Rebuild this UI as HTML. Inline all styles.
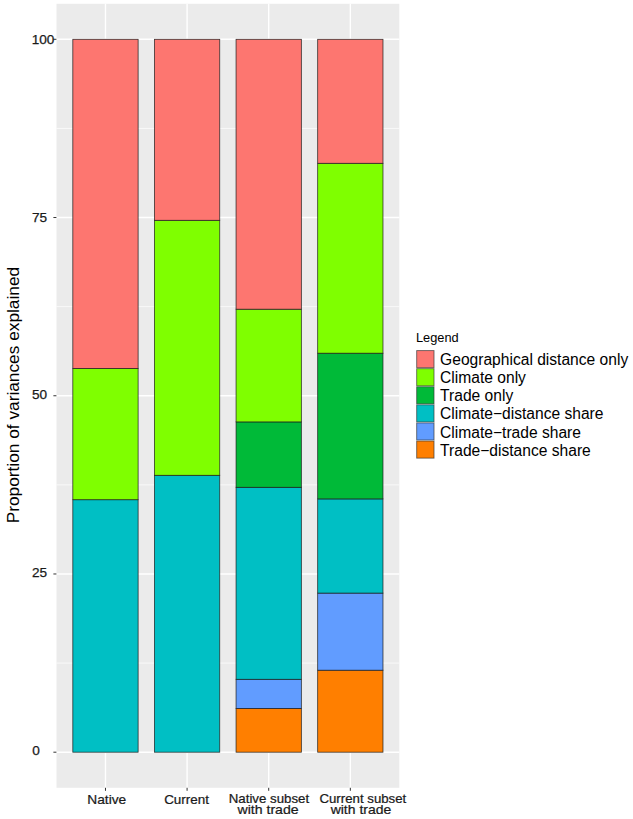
<!DOCTYPE html>
<html><head><meta charset="utf-8"><style>
html,body{margin:0;padding:0;background:#fff;width:633px;height:819px;overflow:hidden}
svg{position:absolute;left:0;top:0;font-family:"Liberation Sans",sans-serif}
</style></head><body>
<svg width="633" height="819" viewBox="0 0 633 819">
<rect x="56.50" y="3.80" width="342.80" height="784.00" fill="#EBEBEB"/>
<line x1="56.50" x2="399.30" y1="663.09" y2="663.09" stroke="#FFFFFF" stroke-width="0.7"/>
<line x1="56.50" x2="399.30" y1="484.86" y2="484.86" stroke="#FFFFFF" stroke-width="0.7"/>
<line x1="56.50" x2="399.30" y1="306.64" y2="306.64" stroke="#FFFFFF" stroke-width="0.7"/>
<line x1="56.50" x2="399.30" y1="128.41" y2="128.41" stroke="#FFFFFF" stroke-width="0.7"/>
<line x1="56.50" x2="399.30" y1="752.20" y2="752.20" stroke="#FFFFFF" stroke-width="1.4"/>
<line x1="56.50" x2="399.30" y1="573.98" y2="573.98" stroke="#FFFFFF" stroke-width="1.4"/>
<line x1="56.50" x2="399.30" y1="395.75" y2="395.75" stroke="#FFFFFF" stroke-width="1.4"/>
<line x1="56.50" x2="399.30" y1="217.52" y2="217.52" stroke="#FFFFFF" stroke-width="1.4"/>
<line x1="56.50" x2="399.30" y1="39.30" y2="39.30" stroke="#FFFFFF" stroke-width="1.4"/>
<line x1="105.47" x2="105.47" y1="3.80" y2="787.80" stroke="#FFFFFF" stroke-width="1.4"/>
<line x1="187.09" x2="187.09" y1="3.80" y2="787.80" stroke="#FFFFFF" stroke-width="1.4"/>
<line x1="268.71" x2="268.71" y1="3.80" y2="787.80" stroke="#FFFFFF" stroke-width="1.4"/>
<line x1="350.33" x2="350.33" y1="3.80" y2="787.80" stroke="#FFFFFF" stroke-width="1.4"/>
<rect x="72.82" y="499.70" width="65.30" height="252.50" fill="#00BFC4" stroke="#1a1a1a" stroke-opacity="0.85" stroke-width="0.8"/>
<rect x="72.82" y="368.40" width="65.30" height="131.30" fill="#7FFF00" stroke="#1a1a1a" stroke-opacity="0.85" stroke-width="0.8"/>
<rect x="72.82" y="39.30" width="65.30" height="329.10" fill="#FD7670" stroke="#1a1a1a" stroke-opacity="0.85" stroke-width="0.8"/>
<rect x="154.44" y="475.30" width="65.30" height="276.90" fill="#00BFC4" stroke="#1a1a1a" stroke-opacity="0.85" stroke-width="0.8"/>
<rect x="154.44" y="220.30" width="65.30" height="255.00" fill="#7FFF00" stroke="#1a1a1a" stroke-opacity="0.85" stroke-width="0.8"/>
<rect x="154.44" y="39.30" width="65.30" height="181.00" fill="#FD7670" stroke="#1a1a1a" stroke-opacity="0.85" stroke-width="0.8"/>
<rect x="236.06" y="708.40" width="65.30" height="43.80" fill="#FF7F00" stroke="#1a1a1a" stroke-opacity="0.85" stroke-width="0.8"/>
<rect x="236.06" y="679.30" width="65.30" height="29.10" fill="#619CFF" stroke="#1a1a1a" stroke-opacity="0.85" stroke-width="0.8"/>
<rect x="236.06" y="487.30" width="65.30" height="192.00" fill="#00BFC4" stroke="#1a1a1a" stroke-opacity="0.85" stroke-width="0.8"/>
<rect x="236.06" y="421.90" width="65.30" height="65.40" fill="#00BA38" stroke="#1a1a1a" stroke-opacity="0.85" stroke-width="0.8"/>
<rect x="236.06" y="309.20" width="65.30" height="112.70" fill="#7FFF00" stroke="#1a1a1a" stroke-opacity="0.85" stroke-width="0.8"/>
<rect x="236.06" y="39.30" width="65.30" height="269.90" fill="#FD7670" stroke="#1a1a1a" stroke-opacity="0.85" stroke-width="0.8"/>
<rect x="317.68" y="670.20" width="65.30" height="82.00" fill="#FF7F00" stroke="#1a1a1a" stroke-opacity="0.85" stroke-width="0.8"/>
<rect x="317.68" y="593.10" width="65.30" height="77.10" fill="#619CFF" stroke="#1a1a1a" stroke-opacity="0.85" stroke-width="0.8"/>
<rect x="317.68" y="498.90" width="65.30" height="94.20" fill="#00BFC4" stroke="#1a1a1a" stroke-opacity="0.85" stroke-width="0.8"/>
<rect x="317.68" y="353.20" width="65.30" height="145.70" fill="#00BA38" stroke="#1a1a1a" stroke-opacity="0.85" stroke-width="0.8"/>
<rect x="317.68" y="163.30" width="65.30" height="189.90" fill="#7FFF00" stroke="#1a1a1a" stroke-opacity="0.85" stroke-width="0.8"/>
<rect x="317.68" y="39.30" width="65.30" height="124.00" fill="#FD7670" stroke="#1a1a1a" stroke-opacity="0.85" stroke-width="0.8"/>
<line x1="53.4" x2="56.4" y1="752.20" y2="752.20" stroke="#333333" stroke-width="1"/>
<line x1="53.4" x2="56.4" y1="573.98" y2="573.98" stroke="#333333" stroke-width="1"/>
<line x1="53.4" x2="56.4" y1="395.75" y2="395.75" stroke="#333333" stroke-width="1"/>
<line x1="53.4" x2="56.4" y1="217.52" y2="217.52" stroke="#333333" stroke-width="1"/>
<line x1="53.4" x2="56.4" y1="39.30" y2="39.30" stroke="#333333" stroke-width="1"/>
<line x1="105.47" x2="105.47" y1="787.8" y2="790.8" stroke="#333333" stroke-width="1"/>
<line x1="187.09" x2="187.09" y1="787.8" y2="790.8" stroke="#333333" stroke-width="1"/>
<line x1="268.71" x2="268.71" y1="787.8" y2="790.8" stroke="#333333" stroke-width="1"/>
<line x1="350.33" x2="350.33" y1="787.8" y2="790.8" stroke="#333333" stroke-width="1"/>
<text x="32.19" y="755.30" font-size="13.6" fill="#1A1A1A" stroke="#1A1A1A" stroke-width="0.25">0</text>
<text x="31.92" y="577.40" font-size="13.6" fill="#1A1A1A" stroke="#1A1A1A" stroke-width="0.25">25</text>
<text x="32.06" y="399.40" font-size="13.6" fill="#1A1A1A" stroke="#1A1A1A" stroke-width="0.25">50</text>
<text x="31.92" y="221.50" font-size="13.6" fill="#1A1A1A" stroke="#1A1A1A" stroke-width="0.25">75</text>
<text x="31.65" y="43.50" font-size="13.6" fill="#1A1A1A" stroke="#1A1A1A" stroke-width="0.25">100</text>
<text transform="translate(19.2,395.1) rotate(-90)" text-anchor="middle" font-size="17.3" fill="#000">Proportion of variances explained</text>
<text transform="translate(87.30,803.50) scale(1,0.9)" font-size="13.76" fill="#1A1A1A" stroke="#1A1A1A" stroke-width="0.25">Native</text>
<text transform="translate(164.13,803.50) scale(1,0.9)" font-size="13.45" fill="#1A1A1A" stroke="#1A1A1A" stroke-width="0.25">Current</text>
<text transform="translate(228.74,802.80) scale(1,0.9)" font-size="13.29" fill="#1A1A1A" stroke="#1A1A1A" stroke-width="0.25">Native subset</text>
<text transform="translate(237.54,813.90) scale(1,0.9)" font-size="14.11" fill="#1A1A1A" stroke="#1A1A1A" stroke-width="0.25">with trade</text>
<text transform="translate(319.44,802.80) scale(1,0.9)" font-size="13.25" fill="#1A1A1A" stroke="#1A1A1A" stroke-width="0.25">Current subset</text>
<text transform="translate(330.64,813.90) scale(1,0.9)" font-size="13.99" fill="#1A1A1A" stroke="#1A1A1A" stroke-width="0.25">with trade</text>
<text x="416" y="341.9" font-size="12.8" fill="#000">Legend</text>
<rect x="416.2" y="350.10" width="18.3" height="18.08" fill="#F2F2F2"/>
<rect x="416.7" y="350.60" width="17.3" height="17.1" fill="#FD7670" stroke="#333" stroke-opacity="0.7" stroke-width="0.9"/>
<text x="440.1" y="365.30" font-size="15.6" fill="#000">Geographical distance only</text>
<rect x="416.2" y="368.18" width="18.3" height="18.08" fill="#F2F2F2"/>
<rect x="416.7" y="368.68" width="17.3" height="17.1" fill="#7FFF00" stroke="#333" stroke-opacity="0.7" stroke-width="0.9"/>
<text x="440.1" y="383.35" font-size="15.6" fill="#000">Climate only</text>
<rect x="416.2" y="386.26" width="18.3" height="18.08" fill="#F2F2F2"/>
<rect x="416.7" y="386.76" width="17.3" height="17.1" fill="#00BA38" stroke="#333" stroke-opacity="0.7" stroke-width="0.9"/>
<text x="440.1" y="401.40" font-size="15.6" fill="#000">Trade only</text>
<rect x="416.2" y="404.34" width="18.3" height="18.08" fill="#F2F2F2"/>
<rect x="416.7" y="404.84" width="17.3" height="17.1" fill="#00BFC4" stroke="#333" stroke-opacity="0.7" stroke-width="0.9"/>
<text x="440.1" y="419.45" font-size="15.6" fill="#000">Climate−distance share</text>
<rect x="416.2" y="422.42" width="18.3" height="18.08" fill="#F2F2F2"/>
<rect x="416.7" y="422.92" width="17.3" height="17.1" fill="#619CFF" stroke="#333" stroke-opacity="0.7" stroke-width="0.9"/>
<text x="440.1" y="437.50" font-size="15.6" fill="#000">Climate−trade share</text>
<rect x="416.2" y="440.50" width="18.3" height="18.08" fill="#F2F2F2"/>
<rect x="416.7" y="441.00" width="17.3" height="17.1" fill="#FF7F00" stroke="#333" stroke-opacity="0.7" stroke-width="0.9"/>
<text x="440.1" y="455.55" font-size="15.6" fill="#000">Trade−distance share</text>
</svg>
</body></html>
